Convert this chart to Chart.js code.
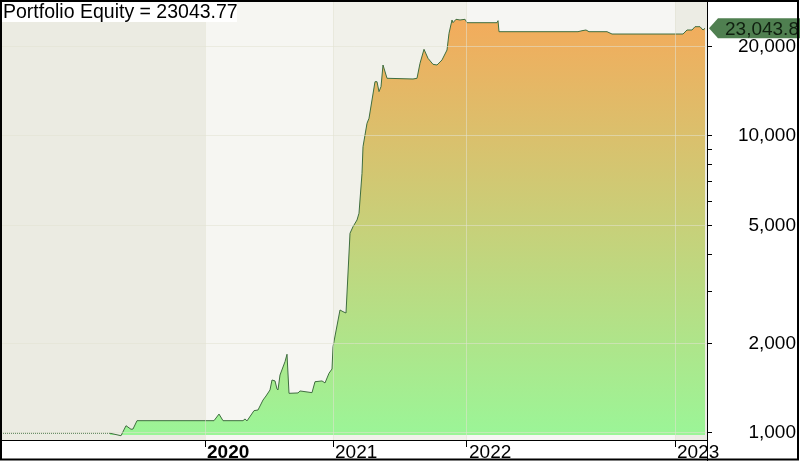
<!DOCTYPE html>
<html>
<head>
<meta charset="utf-8">
<script src="https://cdn.jsdelivr.net/npm/chart.js@4"></script>
<style>
  html, body { margin: 0; padding: 0; background: #fff; }
  #wrap { width: 800px; height: 461px; position: relative; }
</style>
</head>
<body>
<div id="wrap"><canvas id="myChart" width="800" height="461"></canvas></div>
<script>
// bar index on the x axis, equity value on a log y axis
let preBars = [1, 108];
let preEquity = [998, 998];

let bars = [
    108, 119, 124, 129, 131, 135, 212, 217, 221, 241,
    243, 245, 252, 256, 261, 264, 268, 270, 273, 275,
    276, 278, 283, 285, 287, 296, 298, 310, 313, 320,
    323, 327, 330, 331, 338, 341, 344, 348, 351, 355,
    357, 360, 361, 365, 367, 370, 373, 375, 377, 379,
    381, 385, 411, 415, 418, 422, 426, 431, 435, 440,
    445, 447, 450, 451, 454, 458, 463, 465, 495, 496,
    497, 576, 580, 584, 587, 605, 610, 681, 685, 690,
    693, 698, 701, 703
];
let equity = [
    998, 979, 1058, 1029, 1031, 1100, 1100, 1158, 1100, 1100,
    1115, 1098, 1189, 1195, 1291, 1332, 1396, 1508, 1497, 1406,
    1396, 1567, 1738, 1841, 1360, 1364, 1385, 1367, 1488, 1497,
    1474, 1589, 1642, 1952, 2595, 2561, 2535, 4703, 4950, 5214,
    5493, 7486, 9204, 11035, 11470, 13220, 15234, 15234, 14105, 14655,
    17339, 15643, 15557, 15643, 17568, 19583, 18262, 17431, 17339, 18031,
    19477, 22170, 24580, 24071, 24711, 24580, 24711, 24071, 24071, 24447,
    22448, 22448, 22620, 22744, 22448, 22448, 22048, 22048, 22744, 22744,
    23335, 23335, 22744, 23043.77
];

let yearBars = [203, 331, 465, 673];
let yearLabels = ['2020', '2021', '2022', '2023'];
let boldYear = '2020';

let yTickValues = [1000, 2000, 3000, 4000, 5000, 6000, 7000, 8000, 9000, 10000, 20000];
let yLabelled = [1000, 2000, 5000, 10000, 20000];

let FONT = "'Liberation Sans', Arial, sans-serif";
let lastEquity = equity[equity.length - 1];
let bandColors = ['#ebebe2', '#f6f6f2', '#f1f1ea', '#f6f6f3', '#ececE4'];

let bandPlugin = {
    id: 'bands',
    beforeDraw(chart) {
        let {ctx, chartArea, scales} = chart;
        let edges = [chartArea.left].concat(yearBars.map(b => scales.x.getPixelForValue(b)), [chartArea.right]);
        ctx.save();
        for (let i = 0; i < edges.length - 1; i++) {
            ctx.fillStyle = bandColors[i];
            ctx.fillRect(edges[i], chartArea.top, edges[i + 1] - edges[i], chartArea.bottom - chartArea.top);
        }
        ctx.restore();
    }
};

let overlayPlugin = {
    id: 'overlay',
    afterDraw(chart) {
        let {ctx, chartArea, scales} = chart;
        ctx.save();
        // title box
        ctx.fillStyle = '#fff';
        ctx.fillRect(0, 0, 237, 22);
        ctx.fillStyle = '#000';
        ctx.font = '19.5px ' + FONT;
        ctx.textBaseline = 'alphabetic';
        ctx.textAlign = 'left';
        ctx.fillText('Portfolio Equity = ' + lastEquity.toFixed(2), 3, 18);

        // right axis line full height
        ctx.strokeStyle = '#000';
        ctx.lineWidth = 1;
        ctx.beginPath();
        ctx.moveTo(Math.round(chartArea.right) + 0.5, 0);
        ctx.lineTo(Math.round(chartArea.right) + 0.5, 461);
        ctx.stroke();

        // last value tag
        let y = scales.y.getPixelForValue(lastEquity);
        let x0 = chartArea.right + 2;
        ctx.fillStyle = '#4f7f50';
        ctx.beginPath();
        ctx.moveTo(x0, y);
        ctx.lineTo(x0 + 9, y - 10);
        ctx.lineTo(800, y - 10);
        ctx.lineTo(800, y + 10);
        ctx.lineTo(x0 + 9, y + 10);
        ctx.closePath();
        ctx.fill();
        ctx.fillStyle = '#102010';
        ctx.font = '19px ' + FONT;
        ctx.textBaseline = 'middle';
        ctx.fillText(lastEquity.toLocaleString('en-US', {minimumFractionDigits: 1, maximumFractionDigits: 1}), x0 + 16, y + 1);

        // outer frame
        ctx.lineWidth = 2;
        ctx.strokeRect(1, 1, 797, 458.5);
        ctx.restore();
    }
};

let ctx = document.getElementById('myChart').getContext('2d');
let myChart = new Chart(ctx, {
    type: 'line',
    data: {
        datasets: [
            {
                label: 'pre',
                data: preBars.map((b, i) => ({x: b, y: preEquity[i]})),
                borderColor: '#3f6e3f',
                borderWidth: 1,
                borderDash: [1, 1],
                pointRadius: 0,
                fill: false
            },
            {
                label: 'Portfolio Equity',
                data: bars.map((b, i) => ({x: b, y: equity[i]})),
                borderColor: '#3f6e3f',
                borderWidth: 1,
                pointRadius: 0,
                tension: 0,
                fill: {value: 985},
                backgroundColor: function(context) {
                    let {ctx, chartArea} = context.chart;
                    if (!chartArea) return null;
                    let g = ctx.createLinearGradient(0, chartArea.top, 0, chartArea.bottom);
                    g.addColorStop(0, '#f7a859');
                    g.addColorStop(1, '#9af698');
                    return g;
                }
            }
        ]
    },
    options: {
        responsive: false,
        animation: false,
        devicePixelRatio: 1,
        layout: {padding: {left: 2, top: 1, right: 4, bottom: 2}},
        plugins: {legend: {display: false}, tooltip: {enabled: false}},
        scales: {
            x: {
                type: 'linear',
                min: 0,
                max: 705,
                afterBuildTicks: scale => { scale.ticks = yearBars.map(v => ({value: v})); },
                afterFit: scale => {
                    scale.height = 19;
                    scale.paddingLeft = 0;
                    scale.paddingRight = 0;
                },
                grid: {
                    color: 'rgba(225,225,210,0.55)',
                    tickColor: '#000',
                    tickLength: 7,
                    z: 1
                },
                border: {color: '#000', width: 1, z: 1},
                ticks: {
                    autoSkip: false,
                    maxRotation: 0,
                    align: 'start',
                    labelOffset: 2,
                    padding: -6,
                    color: '#000',
                    font: c => ({family: FONT, size: 19, weight: (c.tick && yearLabels[yearBars.indexOf(c.tick.value)] === boldYear) ? 'bold' : 'normal'}),
                    callback: v => yearLabels[yearBars.indexOf(v)] || ''
                }
            },
            y: {
                type: 'logarithmic',
                position: 'right',
                min: 947,
                max: 28480,
                afterBuildTicks: scale => { scale.ticks = yTickValues.map(v => ({value: v})); },
                afterFit: scale => {
                    scale.width = 89;
                    scale.paddingTop = 0;
                    scale.paddingBottom = 0;
                },
                grid: {
                    color: c => (c.tick && yLabelled.includes(c.tick.value)) ? 'rgba(225,225,210,0.55)' : 'rgba(0,0,0,0)',
                    tickColor: '#000',
                    tickLength: 5,
                    z: 1
                },
                border: {color: '#000', width: 1, z: 1},
                ticks: {
                    autoSkip: false,
                    crossAlign: 'far',
                    color: '#000',
                    font: {family: FONT, size: 19},
                    callback: v => yLabelled.includes(v) ? v.toLocaleString('en-US') : ''
                }
            }
        }
    },
    plugins: [bandPlugin, overlayPlugin]
});
</script>
</body>
</html>
